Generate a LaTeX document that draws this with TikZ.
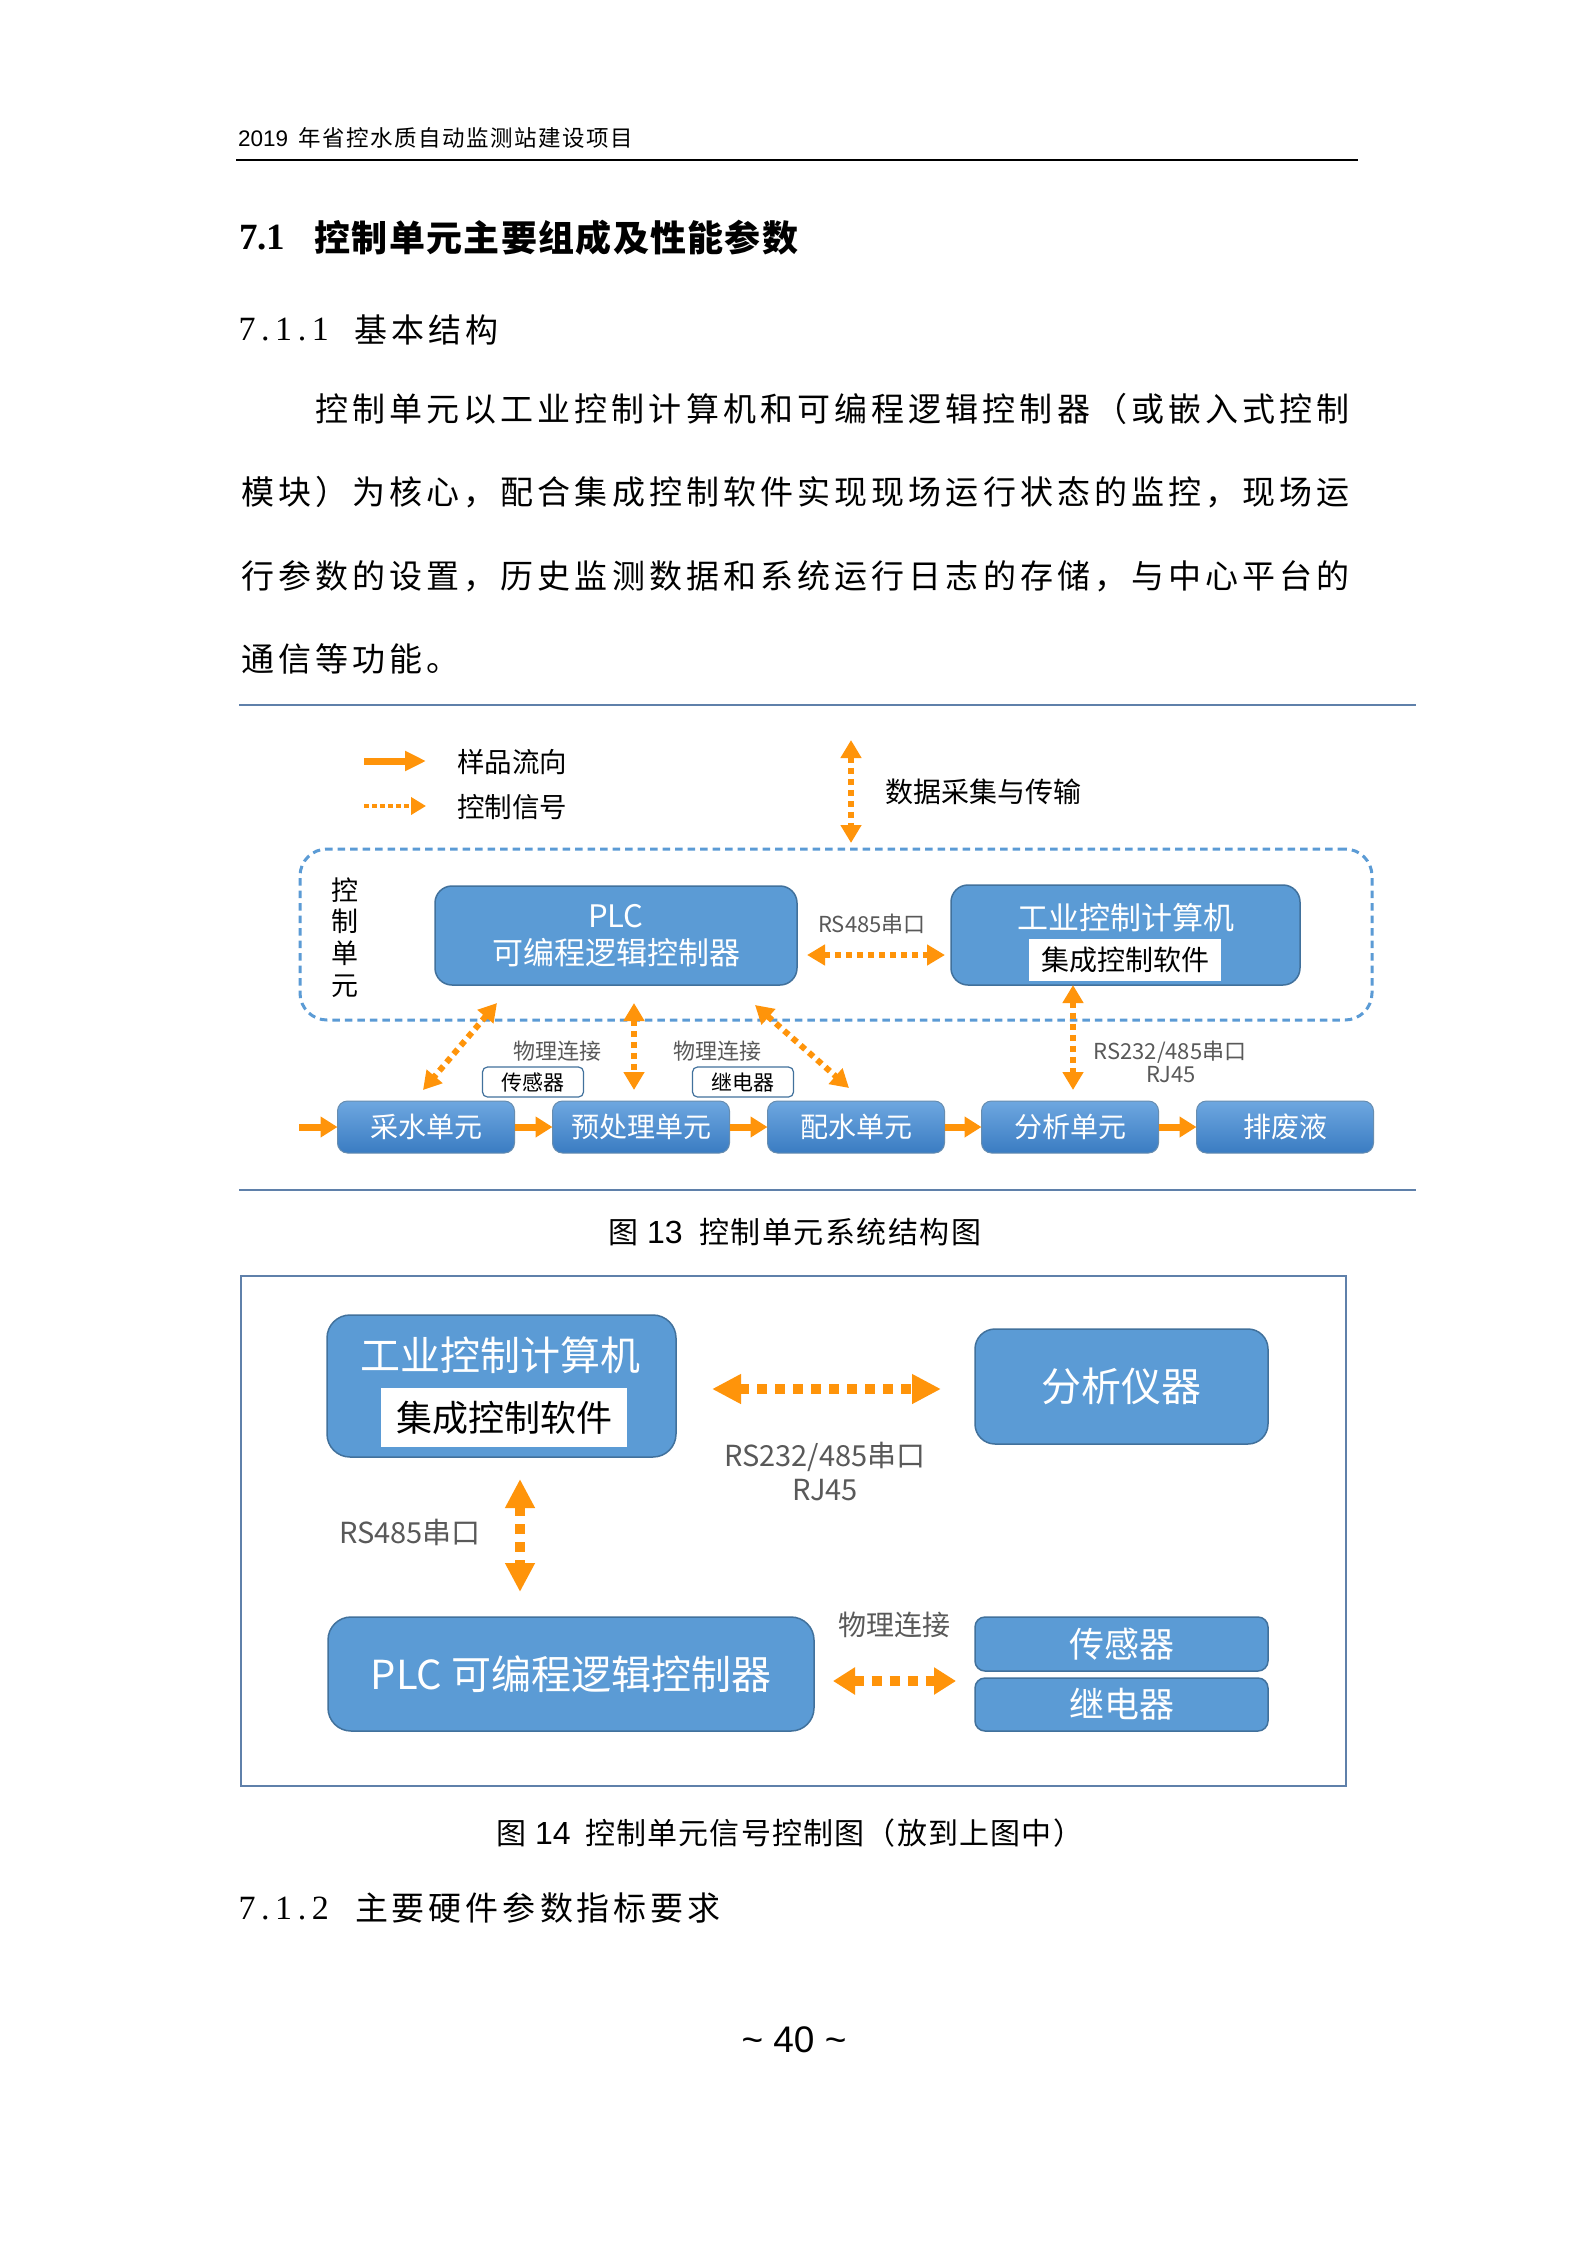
\documentclass[tikz,border=0pt]{standalone}
\usepackage{fontspec}
\setmainfont{Noto Sans CJK SC}
\newfontfamily\lsans{Liberation Sans}
\newfontfamily\lserif{Liberation Serif}
\usetikzlibrary{arrows.meta,calc}
\ExplSyntaxOn
\NewDocumentCommand\gridtxt{mm}{\tl_map_inline:nn{#2}{\makebox[#1][c]{##1}}}
\ExplSyntaxOff
\newcommand\fsz[1]{\fontsize{#1}{#1}\selectfont}
\definecolor{boxblue}{RGB}{91,155,213}
\definecolor{boxedge}{RGB}{65,113,156}
\definecolor{bbtop}{RGB}{110,167,224}
\definecolor{bbbot}{RGB}{58,124,194}
\definecolor{org}{RGB}{255,148,10}
\definecolor{rulec}{RGB}{95,128,170}
\definecolor{lblgray}{RGB}{89,89,89}
\begin{document}
\begin{tikzpicture}[x=1pt,y=-1pt,
  every node/.style={inner sep=0pt,outer sep=0pt},
  bluebox/.style={draw=boxedge,line width=1.5pt,fill=boxblue,text=white},
  flowbox/.style={draw=boxedge!80,line width=1pt,top color=bbtop,bottom color=bbbot,text=white,rounded corners=10pt,minimum width=177pt,minimum height=52pt,font=\fsz{28}},
  tagbox/.style={draw=boxedge,line width=1.2pt,fill=white,rounded corners=5pt,minimum width=101pt,minimum height=30pt,font=\fsz{21}},
  lbl/.style={text=lblgray},
  flow/.style={draw=org,line width=7pt,-{Triangle[length=17pt,width=20pt]}},
  legsig/.style={draw=org,line width=4.7pt,dash pattern=on 4.7pt off 3.3pt,-{Triangle[length=15pt,width=17pt]}},
  sig/.style={draw=org,line width=6pt,dash pattern=on 6pt off 5pt,{Triangle[length=18pt,width=20pt]}-{Triangle[length=18pt,width=20pt]}},
  bigsig/.style={draw=org,line width=10pt,dash pattern=on 10pt off 8pt,{Triangle[length=29pt,width=28pt]}-{Triangle[length=29pt,width=28pt]}},
  bodytxt/.style={anchor=west,font=\fsz{33}}
]
\path[fill=white] (0,0) rectangle (1587,2245);
\useasboundingbox (0,0) rectangle (1587,2245);

% ---------- header ----------
\node[anchor=west,font=\fsz{22.5}] (hdr) at (238,138) {{\lsans 2019}\hspace{10pt}\gridtxt{24pt}{年省控水质自动监测站建设项目}};
\draw[line width=2.5pt,black] (236,160) -- (1358,160);

% ---------- headings & paragraph ----------
\node[anchor=west,font=\fsz{37}\lserif\bfseries] (h1n) at (239,238) {7.1};
\node[anchor=west,font=\fsz{36}\bfseries] (h1t) at (314,238) {\gridtxt{37.3pt}{控制单元主要组成及性能参数}};
\node[anchor=west,font=\fsz{34}\lserif] (h2n) at (238,330) {\gridtxt{18.3pt}{7.1.1}};
\node[bodytxt] (h2t) at (352.5,330) {\gridtxt{37pt}{基本结构}};
\node[bodytxt] (p1) at (313,409) {\gridtxt{37.1pt}{控制单元以工业控制计算机和可编程逻辑控制器（或嵌入式控制}};
\node[bodytxt] (p2) at (239,492) {\gridtxt{37.1pt}{模块）为核心，配合集成控制软件实现现场运行状态的监控，现场运}};
\node[bodytxt] (p3) at (239,576) {\gridtxt{37.1pt}{行参数的设置，历史监测数据和系统运行日志的存储，与中心平台的}};
\node[bodytxt] (p4) at (239,659) {\gridtxt{37.1pt}{通信等功能。}};

% ---------- figure 13 ----------
\draw[line width=2pt,rulec] (239,705) -- (1416,705);
\draw[line width=2pt,rulec] (239,1190) -- (1416,1190);

% legend
\coordinate (lgA1) at (364,761); \coordinate (lgA2) at (426,761);
\coordinate (lgB1) at (364,806); \coordinate (lgB2) at (426,806);
\draw[flow,-{Triangle[length=21pt,width=19pt]}] (lgA1) -- (lgA2);
\draw[legsig] (lgB1) -- (lgB2);
\node[anchor=west,font=\fsz{27.5}] (lgAt) at (457,762) {样品流向};
\node[anchor=west,font=\fsz{27.5}] (lgBt) at (457,807) {控制信号};

% data acquisition
\coordinate (dtop) at (851,740); \coordinate (dbot) at (851,843);
\draw[sig] (dtop) -- (dbot);
\node[anchor=west,font=\fsz{28}] (dtxt) at (885,792) {数据采集与传输};

% control unit dashed box
\node[draw=boxblue,line width=3pt,dash pattern=on 7.5pt off 5pt,rounded corners=27pt,minimum width=1072pt,minimum height=171pt] (ctrlbox) at (836,934.5) {};
\node[align=center,font=\fontsize{27}{31.7}\selectfont] (ctrllbl) at (345,937.5) {控\\制\\单\\元};

\node[bluebox,rounded corners=17pt,minimum width=362pt,minimum height=99pt,align=center,font=\fontsize{31}{37}\selectfont] (plc1) at (616,935.5) {PLC\\可编程逻辑控制器};
\node[bluebox,rounded corners=17pt,minimum width=349pt,minimum height=100pt] (ipc1) at (1125.5,935) {};
\node[text=white,font=\fsz{31}] (ipc1t) at (1126,918) {工业控制计算机};
\node[fill=white,minimum width=192pt,minimum height=42pt,font=\fsz{28}] (sw1) at (1125,960) {集成控制软件};
\node[lbl,font=\fsz{22}] (rs485a) at (872,924) {RS485串口};
\draw[sig] ($(plc1.east)+(10,19.5)$) -- ($(ipc1.west)+(-6,20)$);

% bottom flow boxes
\node[flowbox] (caishui) at (426,1127) {采水单元};
\node[flowbox] (yuchuli) at (641,1127) {预处理单元};
\node[flowbox] (peishui) at (856,1127) {配水单元};
\node[flowbox] (fenxi) at (1070,1127) {分析单元};
\node[flowbox] (paifei) at (1285,1127) {排废液};
\coordinate (inflow) at (299,1127);
\draw[flow] (inflow) -- (caishui.west);
\draw[flow] (caishui.east) -- (yuchuli.west);
\draw[flow] (yuchuli.east) -- (peishui.west);
\draw[flow] (peishui.east) -- (fenxi.west);
\draw[flow] (fenxi.east) -- (paifei.west);

% control signals
\draw[sig] ($(plc1.south)+(-119,18)$) -- ($(caishui.north)+(-3,-11)$);
\draw[sig] ($(plc1.south)+(18,18)$) -- ($(yuchuli.north)+(-7,-11)$);
\draw[sig] ($(plc1.south)+(139,20)$) -- ($(peishui.north)+(-7,-13)$);
\draw[sig] ($(ipc1.south)+(-52.5,0)$) -- ($(fenxi.north)+(3,-11)$);

\node[lbl,font=\fsz{22}] (phy1) at (557,1051) {物理连接};
\node[lbl,font=\fsz{22}] (phy2) at (717,1051) {物理连接};
\node[tagbox] (sens1) at (533,1082) {传感器};
\node[tagbox] (relay1) at (743,1082) {继电器};
\node[lbl,font=\fsz{22}] (rs232a) at (1170,1052) {RS232/485串口};
\node[lbl,font=\fsz{22}] (rj45a) at (1171,1075) {RJ45};

% caption 13
\node[anchor=west,font=\fsz{30}] (cap13) at (608,1232) {图\hspace{9pt}{\lsans\fsz{32}13}\hspace{16pt}\gridtxt{31.5pt}{控制单元系统结构图}};

% ---------- figure 14 ----------
\draw[line width=2pt,rulec] (241,1276) rectangle (1346,1786);
\node[bluebox,rounded corners=23pt,minimum width=349pt,minimum height=142pt] (ipc2) at (501.5,1386) {};
\node[text=white,font=\fsz{40}] (ipc2t) at (500,1355) {工业控制计算机};
\node[fill=white,minimum width=246pt,minimum height=59pt,font=\fsz{36}] (sw2) at (504,1417.5) {集成控制软件};
\node[bluebox,rounded corners=20pt,minimum width=293pt,minimum height=115pt,font=\fsz{40}] (ana) at (1121.5,1386.5) {分析仪器};
\draw[bigsig] ($(ipc2.east)+(36,3)$) -- ($(ana.west)+(-34,2.5)$);
\node[lbl,font=\fsz{29}] (rs232b) at (825,1457) {RS232/485串口};
\node[lbl,font=\fsz{29}] (rj45b) at (825,1490) {RJ45};

\node[bluebox,rounded corners=23pt,minimum width=486pt,minimum height=114pt,font=\fsz{40}] (plc2) at (571,1674) {PLC 可编程逻辑控制器};
\draw[bigsig] ($(ipc2.south)+(18.5,22)$) -- ($(plc2.north)+(-51,-25)$);
\node[lbl,font=\fsz{29}] (rs485b) at (410,1532) {RS485串口};

\node[bluebox,rounded corners=10pt,minimum width=293pt,minimum height=54pt,font=\fsz{35}] (sens2) at (1121.5,1644) {传感器};
\node[bluebox,rounded corners=10pt,minimum width=293pt,minimum height=53pt,font=\fsz{35}] (relay2) at (1121.5,1704.5) {继电器};
\node[lbl,font=\fsz{28}] (phy3) at (894,1625) {物理连接};
\draw[bigsig,{Triangle[length=22pt,width=26pt]}-{Triangle[length=22pt,width=26pt]}] ($(plc2.east)+(19,7)$) -- ($(relay2.west)+(-19,-23.5)$);

% caption 14
\node[anchor=west,font=\fsz{30}] (cap14) at (496,1833) {图\hspace{9pt}{\lsans\fsz{32}14}\hspace{14pt}\gridtxt{31.2pt}{控制单元信号控制图（放到上图中）}};

\node[anchor=west,font=\fsz{34}\lserif] (h3n) at (238,1908) {\gridtxt{18.3pt}{7.1.2}};
\node[bodytxt] (h3t) at (353,1908) {\gridtxt{37pt}{主要硬件参数指标要求}};

\node[font=\fsz{37}\lsans] (pgnum) at (794,2040) {\textasciitilde\ 40 \textasciitilde};
\end{tikzpicture}
\end{document}
